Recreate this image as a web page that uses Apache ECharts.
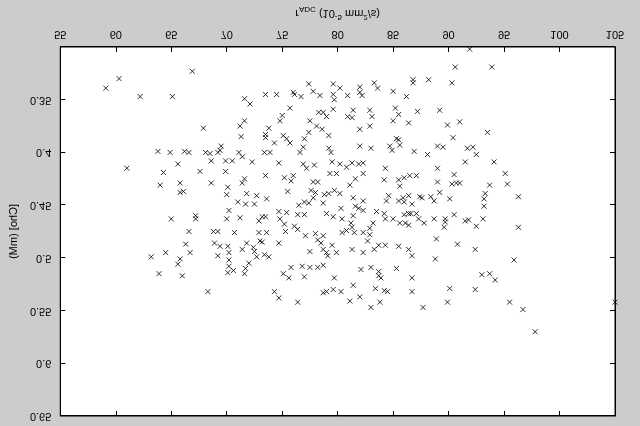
<!DOCTYPE html>
<html><head><meta charset="utf-8">
<script src="https://cdn.jsdelivr.net/npm/echarts@6/dist/echarts.min.js"></script>
<style>
html,body{margin:0;padding:0;background:#cccccc;}
#c{width:640px;height:426px;transform:scaleY(-1);}
</style>
</head><body><div id="c"></div>
<script>
// Axis settings
const xMin = 55, xMax = 105, xStep = 5;
const yMin = 0.30, yMax = 0.65, yStep = 0.05;
const xAxisTitle = 'r{sub|ADC} (10{sup|-5} mm{sup|2}/s)';
const yAxisTitle = '[Cho] (mM)';

// [r_ADC, Cho] values
const points = [
[59.1,0.339],[60.3,0.330],[62.2,0.347],[65.1,0.347],[66.9,0.323],[67.9,0.377],[63.8,0.399],[64.9,0.400],[66.2,0.399],[66.6,0.400],[68.1,0.400],[68.5,0.401],[69.2,0.400],[69.5,0.394],[69.4,0.398],[68.6,0.408],[69.9,0.408],[65.6,0.411],[61.0,0.415],
[77.4,0.335],[79.6,0.335],[80.2,0.339],[82.0,0.338],[77.8,0.342],[78.4,0.346],[79.6,0.345],[80.9,0.346],[82.0,0.343],[82.2,0.346],[76.0,0.343],[76.1,0.345],[76.7,0.347],[73.5,0.345],[74.5,0.345],[71.6,0.349],[72.1,0.354],[75.7,0.358],[79.7,0.350],[79.6,0.359],[78.3,0.362],[78.7,0.362],[79.0,0.366],[80.9,0.366],[81.3,0.367],[81.4,0.360],[75.0,0.365],[74.8,0.370],[71.6,0.370],[71.2,0.375],[73.8,0.377],[77.5,0.370],[78.1,0.375],[78.6,0.378],[77.4,0.381],[82.0,0.378],[71.3,0.385],[73.5,0.383],[73.5,0.386],[75.1,0.384],[75.4,0.387],[74.3,0.391],[75.7,0.391],[77.0,0.387],[79.2,0.384],[82.0,0.394],[76.9,0.395],[76.6,0.400],[79.2,0.396],[79.4,0.400],[71.1,0.400],[71.4,0.404],[73.4,0.400],[73.9,0.400],[70.5,0.408],[72.3,0.409],[74.7,0.410],[76.9,0.411],[77.9,0.412],[79.5,0.409],[80.2,0.411],[81.3,0.410],[81.9,0.411],
[90.6,0.319],[93.9,0.319],[83.3,0.334],[83.6,0.339],[86.8,0.331],[86.8,0.334],[88.2,0.331],[90.3,0.334],[85.0,0.342],[86.2,0.347],[82.9,0.360],[83.1,0.366],[85.2,0.358],[85.5,0.364],[87.2,0.361],[89.2,0.360],[85.0,0.370],[86.4,0.372],[89.9,0.374],[91.0,0.371],[82.9,0.375],[93.5,0.381],[85.3,0.387],[85.5,0.388],[90.4,0.386],[84.7,0.394],[84.9,0.398],[85.6,0.393],[83.0,0.396],[89.0,0.394],[89.5,0.395],[91.7,0.396],[92.2,0.395],[92.5,0.402],[86.9,0.399],[88.1,0.402],[91.5,0.409],[94.1,0.409],[82.3,0.410],[91.9,0.302],
[64.3,0.419],[67.6,0.418],[69.9,0.418],[64.0,0.431],[65.8,0.429],[68.6,0.429],[65.8,0.438],[66.1,0.437],[70.1,0.433],[70.0,0.440],[70.2,0.455],[65.0,0.463],[67.2,0.460],[67.2,0.463],[70.0,0.463],[66.6,0.475],[68.8,0.475],[69.2,0.475],[66.3,0.487],[66.7,0.495],[68.9,0.486],[69.4,0.489],[70.1,0.489],[69.2,0.498],[70.2,0.495],[64.5,0.495],[63.2,0.499],[65.8,0.501],[65.6,0.506],[70.2,0.502],[70.2,0.508],
[77.2,0.415],[80.8,0.414],
[73.5,0.422],[71.6,0.425],[71.4,0.429],[75.2,0.424],[76.0,0.422],[75.8,0.427],[77.8,0.428],[78.2,0.428],[79.3,0.420],[79.9,0.420],[81.1,0.431],[81.6,0.425],[82.3,0.420],
[71.8,0.439],[72.7,0.441],[75.5,0.437],[77.6,0.436],[78.0,0.438],[78.8,0.440],[79.2,0.439],[79.7,0.436],[80.2,0.439],
[73.6,0.444],[71.0,0.447],[71.7,0.449],[72.5,0.449],[77.0,0.447],[77.4,0.448],[77.8,0.443],[78.7,0.448],[76.5,0.450],[80.3,0.453],[81.4,0.443],[81.6,0.451],[81.9,0.453],[82.3,0.455],[81.4,0.460],
[71.2,0.462],[72.9,0.465],[73.2,0.461],[73.5,0.461],[74.7,0.456],[75.4,0.457],[74.8,0.463],[76.4,0.459],[77.0,0.459],[79.0,0.458],[79.6,0.461],[80.4,0.463],[81.2,0.467],[81.3,0.471],
[75.2,0.468],[75.3,0.475],[76.1,0.470],[76.4,0.473],[77.1,0.479],[78.0,0.477],[78.7,0.479],
[70.7,0.476],[72.9,0.476],[73.6,0.476],[73.0,0.484],[73.2,0.485],[74.7,0.486],[80.4,0.476],[80.8,0.474],[81.5,0.476],[82.3,0.476],
[78.2,0.483],[78.5,0.486],[79.5,0.488],[71.8,0.486],[71.4,0.492],[72.4,0.490],[72.5,0.494],[72.7,0.499],[73.4,0.497],[73.8,0.499],[77.5,0.494],[78.7,0.492],[79.0,0.495],[79.1,0.498],[79.9,0.495],[81.3,0.492],[82.3,0.495],
[72.0,0.505],[75.8,0.509],[76.8,0.508],[77.5,0.509],[78.2,0.509],[78.7,0.507],
[84.3,0.415],[89.0,0.415],[84.2,0.426],[85.5,0.426],[86.0,0.424],[86.5,0.422],[87.1,0.422],[85.6,0.432],[89.0,0.428],[90.5,0.421],[90.3,0.430],[90.7,0.429],[91.0,0.429],[93.7,0.431],[93.3,0.439],
[84.6,0.441],[84.4,0.446],[85.5,0.446],[85.9,0.443],[86.4,0.441],[86.0,0.447],[86.7,0.449],[87.4,0.442],[87.6,0.443],[88.4,0.442],[88.7,0.446],[89.2,0.438],[90.1,0.444],[93.2,0.444],[93.2,0.451],[82.3,0.446],
[83.5,0.456],[84.2,0.458],[84.3,0.463],[85.0,0.463],[86.0,0.459],[86.4,0.458],[86.6,0.458],[87.1,0.458],[86.1,0.467],[86.4,0.469],[85.6,0.467],[87.3,0.463],[87.8,0.467],[88.7,0.463],[89.7,0.463],[89.7,0.466],[89.6,0.471],[90.5,0.459],[91.5,0.465],[91.8,0.464],[92.5,0.470],[93.1,0.463],
[83.2,0.467],[82.9,0.472],[82.9,0.478],[82.7,0.484],[83.3,0.492],[83.7,0.488],[84.3,0.488],[85.5,0.489],[86.4,0.492],[86.7,0.498],[88.9,0.482],[90.8,0.487],[92.4,0.492],[88.8,0.501],
[95.1,0.420],[95.3,0.430],[96.3,0.442],[96.3,0.471],[95.9,0.502],
[63.9,0.515],[66.0,0.517],[68.3,0.532],[70.1,0.514],
[70.6,0.512],[71.7,0.510],[71.6,0.515],[75.1,0.515],[75.6,0.519],[77.0,0.518],[79.7,0.519],[82.1,0.511],[74.3,0.532],[74.7,0.538],[76.4,0.542],[78.7,0.533],[79.0,0.532],[79.6,0.530],[80.3,0.532],[81.4,0.526],[81.1,0.541],[82.0,0.537],
[83.0,0.509],[83.7,0.513],[83.7,0.517],[83.9,0.519],[85.3,0.510],[86.7,0.519],[83.4,0.529],[84.2,0.531],[84.5,0.532],[86.7,0.532],[83.8,0.542],[83.0,0.547],[87.7,0.547],[90.1,0.529],[89.9,0.542],[92.4,0.530],[93.0,0.516],[93.7,0.515],[94.2,0.521],
[95.5,0.542],[96.7,0.549],[97.8,0.570],[105.0,0.542]
];

const chart = echarts.init(document.getElementById('c'), null, {renderer: 'canvas'});
const font = 'Liberation Sans, Arial, sans-serif';
const tickStyle = {show: true, inside: true, length: 5, lineStyle: {color: '#000', width: 1}};
chart.setOption({
  animation: false,
  backgroundColor: '#cccccc',
  grid: {left: 57, right: 25, top: 10, bottom: 46, show: true, backgroundColor: '#ffffff', borderColor: '#000', borderWidth: 1},
  xAxis: [{
    type: 'value', min: xMin, max: xMax, interval: xStep, position: 'bottom',
    axisLine: {show: true, onZero: false, lineStyle: {color: '#000'}},
    axisTick: tickStyle, splitLine: {show: false},
    axisLabel: {color: '#000', fontSize: 11, fontFamily: font, margin: 7},
    name: xAxisTitle, nameLocation: 'middle', nameGap: 26,
    nameTextStyle: {color: '#000', fontSize: 11, fontFamily: font, lineHeight: 16,
      rich: {sub: {fontSize: 8, fontFamily: font, verticalAlign: 'bottom', lineHeight: 16, padding: [5,0,0,0]},
             sup: {fontSize: 8, fontFamily: font, verticalAlign: 'top', lineHeight: 16, padding: [0,0,5,0]}}}
  }, {
    type: 'value', min: xMin, max: xMax, interval: xStep, position: 'top',
    axisLine: {show: true, onZero: false, lineStyle: {color: '#000'}},
    axisTick: tickStyle, axisLabel: {show: false}, splitLine: {show: false}
  }],
  yAxis: [{
    type: 'value', min: yMin, max: yMax, interval: yStep, position: 'left',
    axisLine: {show: true, onZero: false, lineStyle: {color: '#000'}},
    axisTick: tickStyle, splitLine: {show: false},
    axisLabel: {color: '#000', fontSize: 11, fontFamily: font, margin: 9, showMinLabel: false,
      formatter: v => String(+v.toFixed(2))},
    name: yAxisTitle, nameLocation: 'middle', nameGap: 36, nameRotate: 90,
    nameTextStyle: {color: '#000', fontSize: 11, fontFamily: font}
  }, {
    type: 'value', min: yMin, max: yMax, interval: yStep, position: 'right',
    axisLine: {show: true, onZero: false, lineStyle: {color: '#000'}},
    axisTick: tickStyle, axisLabel: {show: false}, splitLine: {show: false}
  }],
  series: [{
    type: 'scatter', xAxisIndex: 0, yAxisIndex: 0,
    data: points,
    symbol: 'path://M0,0L10,10M10,0L0,10', symbolSize: 5,
    itemStyle: {color: 'none', borderColor: '#000', borderWidth: 1},
    emphasis: {disabled: true}
  }]
});
</script>
</body></html>
